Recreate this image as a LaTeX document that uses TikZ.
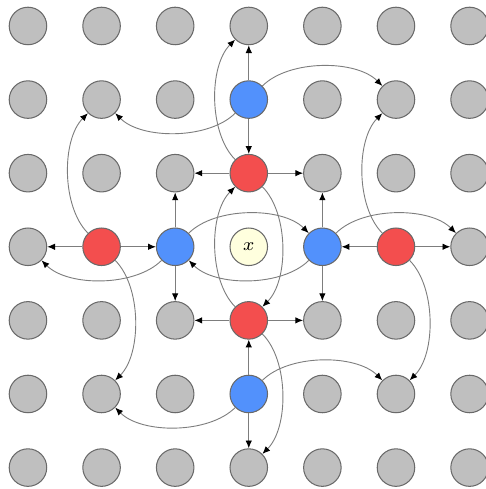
\documentclass[tikz,border=0pt]{standalone}
\usetikzlibrary{arrows.meta}
\definecolor{cgray}{RGB}{191,191,191}
\definecolor{cborder}{RGB}{105,105,105}
\definecolor{cred}{RGB}{243,78,78}
\definecolor{cblue}{RGB}{82,145,252}
\definecolor{cyel}{RGB}{255,255,222}
\definecolor{cline}{RGB}{125,125,125}
\begin{document}
\begin{tikzpicture}[
  dot/.style={circle, draw=cborder, line width=0.4pt, fill=cgray, minimum size=0.51cm, inner sep=0pt},
  rednode/.style={dot, fill=cred},
  bluenode/.style={dot, fill=cblue},
  xnode/.style={dot, fill=cyel, font=\fontsize{6.8}{8}\selectfont},
  arr/.style={draw=cline, line width=0.35pt, -{Latex[length=3pt,width=2.5pt,color=black]}},
  curv/.style={arr, bend left=45, looseness=0.8}
]
\useasboundingbox (-0.380,0.353) rectangle (6.223,-6.291);
\foreach \i in {0,...,6}{
  \foreach \j in {0,...,6}{
    \pgfmathtruncatemacro\dd{abs(\i-3)+abs(\j-3)}
    \pgfmathtruncatemacro\isspec{((\i==3)||(\j==3))&&(\dd<3)}
    \ifnum\isspec=0 \node[dot] (n\i\j) at (\i,-\j) {};\fi
  }
}
\node[rednode] (n32) at (3,-2) {};
\node[rednode] (n34) at (3,-4) {};
\node[rednode] (n13) at (1,-3) {};
\node[rednode] (n53) at (5,-3) {};
\node[bluenode] (n31) at (3,-1) {};
\node[bluenode] (n35) at (3,-5) {};
\node[bluenode] (n23) at (2,-3) {};
\node[bluenode] (n43) at (4,-3) {};
\node[xnode] (n33) at (3,-3) {$x$};
% straight arrows
\foreach \a/\b in {n31/n30, n31/n32, n32/n22, n32/n42, n35/n36, n35/n34, n34/n24, n34/n44,
                   n13/n03, n13/n23, n23/n22, n23/n24, n53/n63, n53/n43, n43/n42, n43/n44}
  \draw[arr] (\a) -- (\b);
% curved arrows
\foreach \a/\b in {n31/n11, n31/n51, n32/n30, n32/n34, n34/n32, n34/n36, n35/n55, n35/n15,
                   n13/n11, n13/n15, n53/n51, n53/n55, n23/n03, n23/n43, n43/n23, n43/n63}
  \draw[curv] (\a) to (\b);
\end{tikzpicture}
\end{document}
